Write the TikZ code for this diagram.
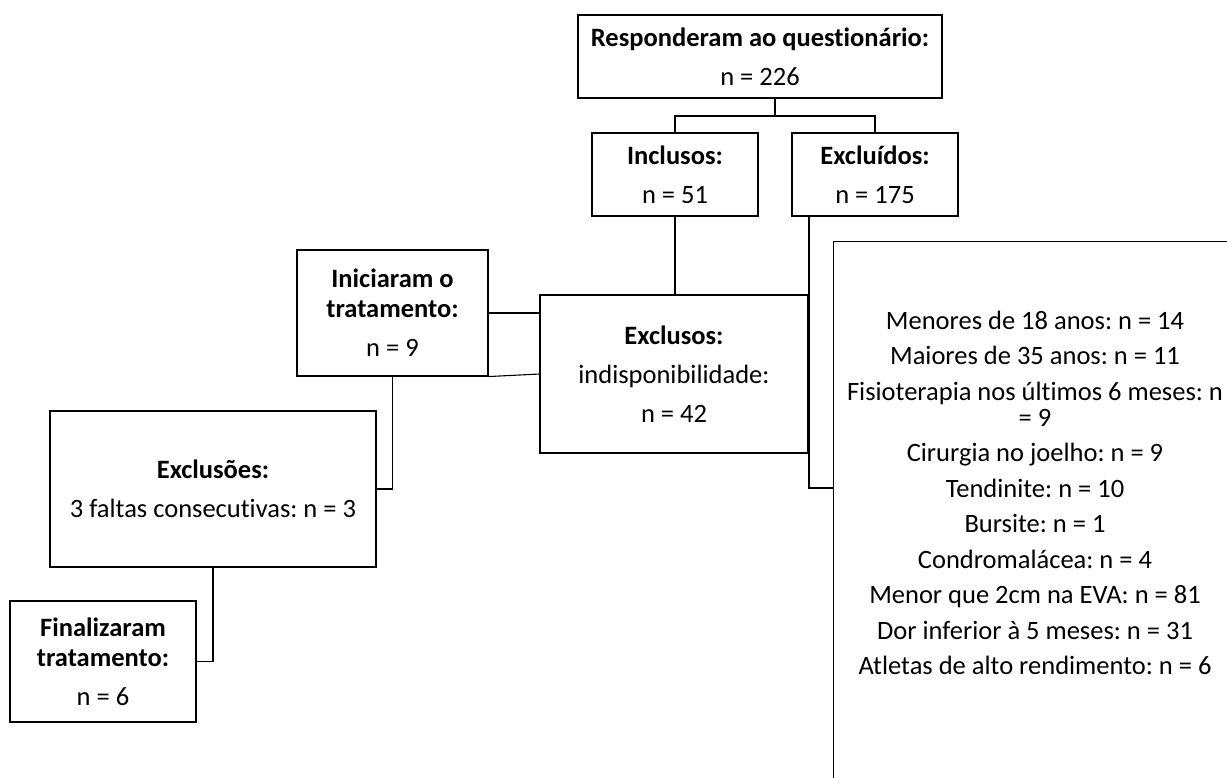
\documentclass[tikz,border=0pt]{standalone}
\usepackage{fontspec}
\setmainfont{Carlito}[Ligatures=NoCommon]
\frenchspacing
\begin{document}
\begin{tikzpicture}[x=1pt,y=-1pt,
  box/.style={draw=black, line width=1.1pt, align=center, inner sep=0pt,
    font=\fontsize{26.5}{30}\selectfont},
  bigtext/.style={align=center, inner sep=0pt, font=\fontsize{26.5}{26}\selectfont},
  conn/.style={draw=black, line width=1.1pt}]
\useasboundingbox (0,0) rectangle (1227,777);
\clip (0,0) rectangle (1227,777);

\node[box, minimum width=364pt, minimum height=83pt] (top) at (760,56.5)
  {\textbf{Responderam ao questionário:}\\[9pt]n = 226};
\node[box, minimum width=166pt, minimum height=83pt] (inc) at (675,174.5)
  {\textbf{Inclusos:}\\[9pt]n = 51};
\node[box, minimum width=166pt, minimum height=83pt] (exc) at (875,174.5)
  {\textbf{Excluídos:}\\[9pt]n = 175};
\node[box, minimum width=268pt, minimum height=158pt] (excl) at (674,374)
  {\textbf{Exclusos:}\\[9pt]indisponibilidade:\\[9pt]n = 42};
\node[box, minimum width=191pt, minimum height=126pt] (ini) at (392.5,313)
  {\textbf{Iniciaram o}\\\textbf{tratamento:}\\[9pt]n = 9};
\node[box, minimum width=326pt, minimum height=156pt] (exs) at (213,489)
  {\textbf{Exclusões:}\\[9pt]3 faltas consecutivas: n = 3};
\node[box, minimum width=186pt, minimum height=121pt] (fin) at (103,661.5)
  {\textbf{Finalizaram}\\\textbf{tratamento:}\\[9pt]n = 6};
% large exclusion box (runs past the right and bottom edges)
\node[box, minimum width=404pt, minimum height=700pt, anchor=north west] (big) at (833,241) {};
\node[bigtext] (bigtxt) at (1035,493)
  {Menores de 18 anos: n = 14\\[9.5pt]
   Maiores de 35 anos: n = 11\\[9.5pt]
   Fisioterapia nos últimos 6 meses: n\\= 9\\[9.5pt]
   Cirurgia no joelho: n = 9\\[9.5pt]
   Tendinite: n = 10\\[9.5pt]
   Bursite: n = 1\\[9.5pt]
   Condromalácea: n = 4\\[9.5pt]
   Menor que 2cm na EVA: n = 81\\[9.5pt]
   Dor inferior à 5 meses: n = 31\\[9.5pt]
   Atletas de alto rendimento: n = 6};

\coordinate (j1) at (775,116);
\coordinate (j2) at (809,488);
\draw[conn] (top.south -| j1) -- (j1);
\draw[conn] (inc.north) |- (j1) -| (exc.north);
\draw[conn] (inc.south) -- (inc.south |- excl.north);
\draw[conn] (ini.east) -- (ini.east -| excl.west);
\draw[conn] (ini.south east) -- (excl.west);
\draw[conn] (ini.south) |- (exs.east);
\draw[conn] (exs.south) |- (fin.east);
\draw[conn] (exc.south -| j2) -- (j2) -- (j2 -| big.west);
\end{tikzpicture}
\end{document}
